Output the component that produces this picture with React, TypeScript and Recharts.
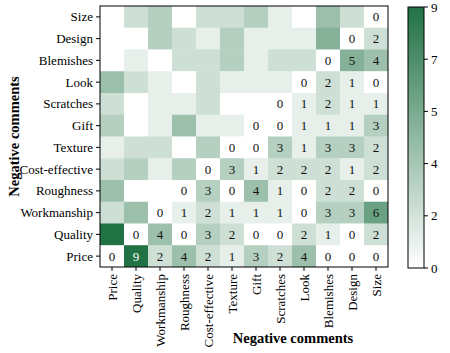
import { ScatterChart, Scatter, XAxis, YAxis } from 'recharts'

// column order, left to right
const categories = [
  'Price', 'Quality', 'Workmanship', 'Roughness', 'Cost-effective', 'Texture',
  'Gift', 'Scratches', 'Look', 'Blemishes', 'Design', 'Size',
]

// rows, top to bottom (Size on top, Price at the bottom)
const rowSize = [0, 2, 3, 0, 2, 2, 3, 1, 0, 4, 2, 0]
const rowDesign = [0, 0, 3, 2, 1, 3, 1, 1, 1, 5, 0, 2]
const rowBlemishes = [0, 1, 0, 2, 2, 3, 1, 2, 2, 0, 5, 4]
const rowLook = [4, 2, 1, 0, 2, 1, 1, 1, 0, 2, 1, 0]
const rowScratches = [2, 0, 1, 1, 2, 0, 0, 0, 1, 2, 1, 1]
const rowGift = [3, 0, 1, 4, 1, 1, 0, 0, 1, 1, 1, 3]
const rowTexture = [1, 2, 2, 0, 3, 0, 0, 3, 1, 3, 3, 2]
const rowCostEffective = [2, 3, 1, 3, 0, 3, 1, 2, 2, 2, 1, 2]
const rowRoughness = [4, 0, 0, 0, 3, 0, 4, 1, 0, 2, 2, 0]
const rowWorkmanship = [2, 4, 0, 1, 2, 1, 1, 1, 0, 3, 3, 6]
const rowQuality = [9, 0, 4, 0, 3, 2, 0, 0, 2, 1, 0, 2]
const rowPrice = [0, 9, 2, 4, 2, 1, 3, 2, 4, 0, 0, 0]

const rows = [
  rowSize, rowDesign, rowBlemishes, rowLook, rowScratches, rowGift,
  rowTexture, rowCostEffective, rowRoughness, rowWorkmanship, rowQuality, rowPrice,
]

const colorbarTicks = [0, 1.8, 3.6, 5.4, 7.2, 9]
const vMax = 9

const W = 450
const H = 353
const M = { top: 6, right: 62, left: 0, bottom: 0 }
const Y_W = 100
const X_H = 86
const plotW = W - M.left - M.right - Y_W
const plotH = H - M.top - M.bottom - X_H
const cellW = plotW / categories.length
const cellH = plotH / categories.length

const LOW = [255, 255, 255]
const HIGH = [33, 114, 69]
function colorFor(v: number) {
  const t = Math.max(0, Math.min(1, v / vMax))
  const c = LOW.map((l, i) => Math.round(l + (HIGH[i] - l) * t))
  return `rgb(${c[0]},${c[1]},${c[2]})`
}

const n = categories.length
const cells = rows.flatMap((row, r) =>
  row.map((v, c) => ({ x: c, y: n - 1 - r, v, shown: c >= n - 1 - r })),
)

const serif: React.CSSProperties = { fontFamily: "'Liberation Serif', 'Times New Roman', serif" }

const Cell = (props: any) => {
  const { cx, cy, payload } = props
  if (cx == null || cy == null) return null
  return (
    <g>
      <rect x={cx - cellW / 2} y={cy - cellH / 2} width={cellW + 0.4} height={cellH + 0.4} fill={colorFor(payload.v)} />
      {payload.shown && (
        <text x={cx} y={cy} dy={4.5} textAnchor="middle" fontSize={13} style={serif}
          fill={payload.v > 7 ? '#fff' : '#111'}>
          {payload.v}
        </text>
      )}
    </g>
  )
}

const XTick = (props: any) => {
  const { x, y, payload } = props
  return (
    <g transform={`translate(${x},${y})`}>
      <text transform="rotate(-90)" x={0} y={0} dy={4.5} textAnchor="end" fontSize={13} style={serif} fill="#000">
        {categories[payload.value]}
      </text>
    </g>
  )
}

const YTick = (props: any) => {
  const { x, y, payload } = props
  return (
    <text x={x} y={y} dy={4.5} textAnchor="end" fontSize={13} style={serif} fill="#000">
      {categories[payload.value]}
    </text>
  )
}

const idx = categories.map((_, i) => i)

export default function App() {
  const cbX = 408
  const cbW = 16
  const cbTop = 7
  const cbBot = 268
  const cbH = cbBot - cbTop
  return (
    <div style={{ position: 'absolute', left: 0, top: 0, width: W, height: H, background: '#fff', ...serif }}>
      <ScatterChart width={W} height={H} margin={M}>
        <XAxis type="number" dataKey="x" domain={[-0.5, n - 0.5]} ticks={idx} interval={0}
          height={X_H} tick={<XTick />} tickSize={4} tickMargin={3}
          axisLine={false} tickLine={{ stroke: '#000' }} allowDataOverflow />
        <YAxis type="number" dataKey="y" domain={[-0.5, n - 0.5]} ticks={idx} interval={0}
          width={Y_W} tick={<YTick />} tickSize={4} tickMargin={3}
          axisLine={false} tickLine={{ stroke: '#000' }} allowDataOverflow />
        <Scatter data={cells} shape={<Cell />} isAnimationActive={false} />
      </ScatterChart>
      <svg width={W} height={H} style={{ position: 'absolute', left: 0, top: 0, pointerEvents: 'none' }}>
        <defs>
          <linearGradient id="cb" x1="0" y1="1" x2="0" y2="0">
            <stop offset="0" stopColor={colorFor(0)} />
            <stop offset="1" stopColor={colorFor(vMax)} />
          </linearGradient>
        </defs>
        <rect x={M.left + Y_W} y={M.top} width={plotW} height={plotH} fill="none" stroke="#000" strokeWidth={1} />
        <text transform={`translate(19,${M.top + plotH / 2}) rotate(-90)`} textAnchor="middle"
          fontSize={14.5} fontWeight="bold" style={serif} fill="#000">Negative comments</text>
        <text x={293} y={343} textAnchor="middle" fontSize={14.5} fontWeight="bold" style={serif} fill="#000">
          Negative comments
        </text>
        <rect x={cbX} y={cbTop} width={cbW} height={cbH} fill="url(#cb)" stroke="#000" strokeWidth={1} />
        {colorbarTicks.map((t) => {
          const ty = cbBot - (t / vMax) * cbH
          return (
            <g key={t}>
              <line x1={cbX + cbW} x2={cbX + cbW + 4} y1={ty} y2={ty} stroke="#000" />
              <text x={cbX + cbW + 7} y={ty} dy={4.5} fontSize={13} style={serif} fill="#000">
                {Math.round(t)}
              </text>
            </g>
          )
        })}
      </svg>
    </div>
  )
}
